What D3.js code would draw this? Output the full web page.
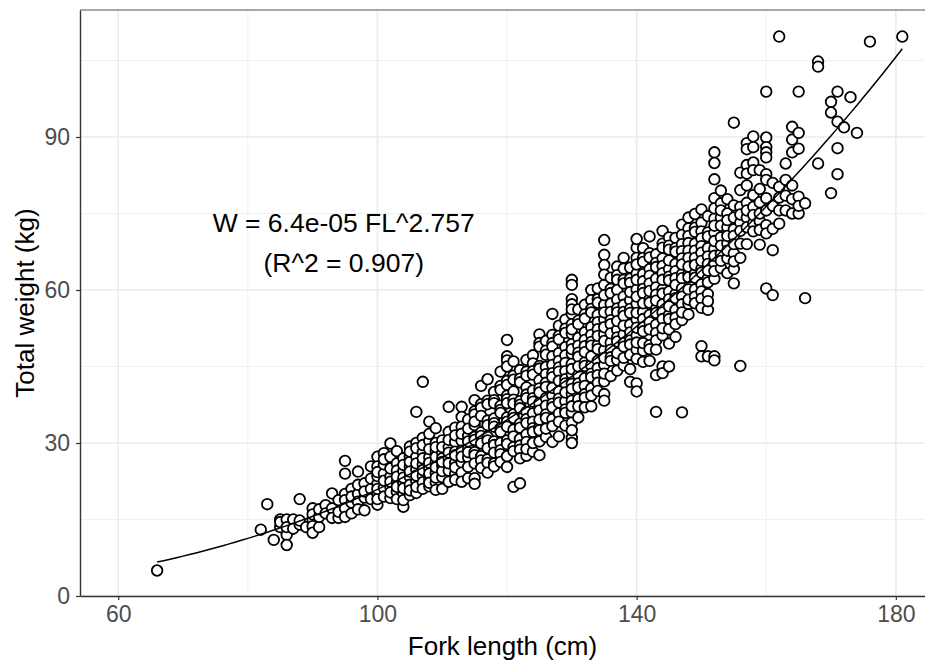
<!DOCTYPE html>
<html>
<head>
<meta charset="utf-8">
<script src="https://cdn.jsdelivr.net/npm/d3@7"></script>
<style>
  html, body { margin: 0; padding: 0; background: #fff; }
  svg { display: block; font-family: "Liberation Sans", Arial, sans-serif; }
</style>
</head>
<body>
<svg id="chart" width="925" height="664"></svg>
<script>
// fork length columns (cm) and the weights (kg)
const lengthColumns = [
  66, 82, 83, 84, 85, 86, 87, 88, 89, 90,
  91, 92, 93, 94, 95, 96, 97, 98, 99, 100,
  101, 102, 103, 104, 105, 106, 107, 108, 109, 110,
  111, 112, 113, 114, 115, 116, 117, 118, 119, 120,
  121, 122, 123, 124, 125, 126, 127, 128, 129, 130,
  131, 132, 133, 134, 135, 136, 137, 138, 139, 140,
  141, 142, 143, 144, 145, 146, 147, 148, 149, 150,
  151, 152, 153, 154, 155, 156, 157, 158, 159, 160,
  161, 162, 163, 164, 165, 166, 168, 170, 171, 172,
  173, 174, 176, 181
];

const weightColumns = [
  [5], [13], [18], [11], [15, 13.5, 14.5], [15, 12, 10, 13.5], [15, 13.2], [19, 14, 14.8], [13.5], [17.2, 15, 13.7, 12.4, 16],
  [13.5, 15.5, 17], [17.8, 16.2], [20.1, 17.2, 15.3], [15.3, 16.5, 18.8], [26.5, 24, 20, 18.8, 17.2, 15.5], [18.3, 21, 16.2, 19.5],
  [24.4, 20, 18.5, 21.8, 17], [22.1, 19.3, 16.8, 20.5], [25.4, 21, 19, 23],
  [27.3, 25.4, 22, 20, 17.9, 23.5, 19, 21, 24.3],
  [28, 24, 21.2, 19.5, 22.6, 25.8, 26.8],
  [29.9, 27.3, 23.4, 21.4, 19.2, 25, 20.3, 22.4],
  [26, 22.3, 24.6, 20.4, 28.4, 23.4, 21.4, 19],
  [24.5, 22, 20.1, 27, 17.5, 23.2, 25.7, 21.1, 18.8],
  [29.3, 27.3, 25.4, 23.4, 21.8, 19.8, 26.3, 24.4, 20.7, 28.3],
  [36.1, 30, 27.3, 24.8, 20.2, 22.5, 23.6, 26, 21.4, 29],
  [42, 25.8, 23.6, 28.2, 31, 22.3, 27, 24.7, 29.6, 21],
  [34.2, 30.4, 27.2, 25, 23, 21.5, 26.1, 28.8, 24, 22.2, 31.8],
  [32.9, 28.4, 26.2, 24.1, 22.3, 30, 25.2, 27.3, 23.2, 29.2, 20.8],
  [30.5, 28, 25.6, 23.3, 21, 27, 29.2, 24.5, 26.3],
  [37.1, 32.2, 29.2, 27, 24.6, 22.4, 26, 30.6, 28.1],
  [30.2, 28.3, 26.1, 24, 27.6, 33, 31.5, 22.8, 25.2],
  [37.1, 35.1, 33.2, 30.4, 28.5, 26.2, 24.2, 22.4, 31.8, 27.3],
  [31.4, 29.1, 27.2, 25.3, 23.1, 34.6, 32.8, 28.2, 30.3],
  [38.4, 36.2, 35.6, 33.5, 31.2, 30.6, 28.2, 27.6, 26, 23.1, 22, 34.2],
  [41.2, 37.6, 36.9, 35.3, 32.1, 31.4, 29.9, 27.4, 26.6, 25.1],
  [42.5, 38.3, 37.6, 34.4, 33.5, 31.2, 30.5, 29, 26.8, 26.1, 24.2],
  [40, 38.4, 37.8, 34.8, 33.9, 33.2, 30.3, 29.6, 28.1, 26, 25.4],
  [44, 41.2, 40.4, 37.3, 36.5, 35.9, 32.9, 32.2, 30, 28.6, 27.8, 26.3],
  [50.2, 47, 46.2, 45, 42.2, 41.4, 39.3, 38.6, 37.8, 35, 34.2, 33.2, 30.5, 29.8, 27.4, 25.3],
  [46, 43.2, 42.4, 40.1, 38.5, 37.7, 35.6, 34.9, 32.6, 31.3, 29.2, 28.4, 21.4],
  [44.3, 42.6, 41.9, 38.2, 37.5, 36.8, 33.8, 33, 30.8, 29.5, 28.7, 27, 22.1],
  [46.3, 44, 43.2, 40.9, 39.5, 38.8, 36.1, 34.7, 33.9, 31.7, 30.2, 27.5, 28.8],
  [47.2, 45.6, 44.1, 43.4, 40.3, 38.8, 38.1, 35.8, 34.2, 32.9, 32.2, 28.3, 30],
  [51.3, 49.6, 48.9, 45.1, 44.6, 42.3, 40.7, 39.9, 37.8, 36.4, 33.1, 32.5, 30.3, 27.6, 34.6],
  [50, 48.1, 47.3, 44.9, 43.5, 41.8, 41, 38.8, 37.3, 35.6, 34.9, 31.2, 32.8],
  [55.3, 51.2, 49.6, 48.9, 47, 45.3, 43.7, 42.9, 39.3, 37.7, 37, 34.7, 33.3, 30.2, 40.8],
  [53, 51, 50.3, 47.6, 46.1, 44.8, 44, 40.1, 38.7, 37.9, 35.8, 34.2, 31.3, 42.2],
  [54.2, 52.4, 51.6, 48.8, 47.2, 45.7, 44.1, 42.5, 41.7, 38.2, 36.6, 35.9, 33.4, 39.9],
  [62, 61, 58.2, 57.2, 55.3, 53.3, 51.4, 49.4, 47.5, 45.5, 43.5, 41.6, 39.6, 38.3, 36, 34, 31, 30, 56.2, 52.3, 48.4, 44.5, 40.6, 37.2, 32.5],
  [56.2, 54, 53.3, 50.6, 49.1, 47.7, 46.9, 43.3, 41.7, 40.9, 38.6, 37.2, 35, 45],
  [57.1, 55.2, 54.4, 51.7, 50.2, 49, 45.8, 45.1, 42.7, 41.2, 39.6, 38.9, 37, 47.8],
  [60, 58, 56.3, 55.6, 52.7, 51.2, 49.8, 49.1, 45.2, 43.6, 42.9, 40.7, 39.3, 37.2, 47],
  [60.3, 58.2, 57.5, 55.1, 53.7, 52.3, 49.2, 48.4, 46.1, 44.7, 43.3, 41.8, 40.2, 51],
  [69.8, 66.9, 64.9, 61, 57.1, 54.2, 51.3, 48.2, 45.3, 42.1, 39.6, 38.3, 55.6, 50, 59, 52.7, 46.7, 43.6, 63],
  [62.4, 60.2, 59.4, 57.3, 55.7, 54.1, 53.3, 49.7, 48.3, 46.8, 46.1, 43.1, 51.5],
  [64.6, 62.9, 62, 60, 58.1, 56.4, 55.6, 52.2, 50.7, 49.9, 46.3, 44.2, 47.6, 53.9],
  [66.3, 64.2, 62, 61.3, 58.7, 57.1, 55.7, 54.9, 51.3, 49.6, 48.9, 45.2, 46.7, 53],
  [64.4, 62.2, 61.4, 58, 56.3, 55.5, 53.2, 51.7, 50.1, 49.3, 47.3, 44.5, 42, 59.6],
  [68.3, 66.3, 63.2, 60.1, 57.3, 54.2, 51.1, 48.3, 41.7, 40.1, 55.5, 62, 65, 58.7, 52.6, 49.7, 46.5, 70],
  [68.2, 66.3, 65.5, 63.1, 61.7, 60.2, 59.4, 55.7, 54.3, 52.7, 51.9, 48.1, 49.6, 45.9, 57.4],
  [70.5, 67.2, 66.4, 64.1, 62.8, 61.3, 58.2, 57.5, 55.1, 53.7, 52.3, 49.2, 48.4, 46.1, 59.8],
  [67, 65.3, 64.5, 62.2, 60.5, 59.1, 56.3, 55.5, 53.2, 51.6, 50.1, 48.3, 43.3, 36.1, 57.9],
  [71.6, 69.1, 68.3, 66.2, 64.7, 63.3, 60.1, 59.3, 57.2, 55.6, 54.3, 51.1, 52.5, 45, 43.7, 62],
  [70.3, 68.7, 67.9, 64.1, 62.6, 61.9, 59.7, 58.2, 55.1, 54.3, 52.3, 49.5, 45, 65.8, 56.8],
  [70.2, 68.2, 67.5, 65.1, 63.7, 62.3, 59.2, 58.4, 56.1, 54.6, 53.3, 50.8, 61],
  [72.8, 70.8, 69, 67.6, 66.2, 63.1, 62.3, 60.3, 58.7, 57.2, 54.1, 55.6, 36, 65],
  [74.2, 72.1, 70.6, 69.2, 67.7, 66.3, 63.2, 62.5, 60.1, 57.3, 58.1, 55.2, 64.6],
  [74.9, 72.2, 71.4, 69.1, 67.7, 66.3, 63.2, 62.4, 60.1, 58.7, 57.4, 64.9],
  [75.8, 73.2, 71.5, 70.1, 68.6, 67.3, 64.2, 63.4, 61.1, 59.7, 58.3, 56.5, 49, 47, 65.7],
  [74.5, 71.3, 70.5, 68.2, 66.6, 65.1, 62.3, 61.5, 59.2, 56.1, 57.8, 47, 63.8],
  [87, 84.9, 81.7, 78, 74, 71.2, 68.1, 65.3, 62.2, 47, 46.2, 72.6, 69.6, 66.7, 63.7, 76],
  [77, 74.2, 70.3, 67.1, 64.3, 75.6, 72.6, 68.7, 65.7, 79.5],
  [75, 72.3, 69.1, 66.2, 63.3, 73.7, 70.6, 67.7, 77.8],
  [92.8, 71.9, 70.6, 67.2, 64.1, 61.3, 69, 74.2, 76.6, 65.6],
  [83, 76.3, 73.2, 69.1, 66.3, 45.1, 74.8, 71.6, 79.6],
  [88.8, 87.6, 84.5, 82.8, 77.1, 74.2, 69, 75.6, 72.3, 80.5],
  [90.1, 88, 85, 76.3, 73.1, 83.5, 78.6, 74.7, 71.5],
  [83.5, 77.2, 68.9, 73.5, 75, 79.8, 71.8],
  [98.9, 89.9, 88, 87, 86, 82.7, 81.6, 78, 75.6, 72.7, 71.1, 60.3],
  [81, 76.5, 72, 67.8, 59], [109.7, 80.2, 78.1, 75.6, 73], [84.8, 81.6, 78.5, 75.6], [92, 89.5, 87, 80.5, 75, 77.8],
  [98.9, 90.8, 87.7, 78.3, 75, 76.5], [58.4, 77], [104.8, 103.8, 84.8], [96.9, 94.8, 79], [98.9, 93, 87.8, 82.7], [91.9],
  [97.8], [90.8], [108.7], [109.7]
];

// fitted power model printed on the chart: W = a * FL^b
const fitA = 6.4e-5;
const fitB = 2.757;
const fitRange = [66, 181];

const xTicks = [60, 100, 140, 180];
const xMinor = [80, 120, 160];
const yTicks = [0, 30, 60, 90];
const yMinor = [15, 45, 75, 105];

const labelLines = ['W = 6.4e-05 FL^2.757', '(R^2 = 0.907)'];

const points = [];
lengthColumns.forEach((fl, i) => {
  weightColumns[i].forEach((w) => points.push({ fl: fl, w: w }));
});

const margin = { top: 10, right: 0, bottom: 68, left: 80 };
const width = 925 - margin.left - margin.right;
const height = 664 - margin.top - margin.bottom;

const x = d3.scaleLinear().domain([54.1, 184.5]).range([0, width]);
const y = d3.scaleLinear().domain([0, 114.9]).range([height, 0]);

const svg = d3.select('#chart');
const g = svg.append('g')
  .attr('transform', 'translate(' + margin.left + ',' + margin.top + ')');

// grid
g.selectAll('.minor-x').data(xMinor).enter().append('line')
  .attr('x1', (d) => x(d)).attr('x2', (d) => x(d))
  .attr('y1', 0).attr('y2', height)
  .style('stroke', '#f0f0f0').style('stroke-width', 1);
g.selectAll('.minor-y').data(yMinor).enter().append('line')
  .attr('y1', (d) => y(d)).attr('y2', (d) => y(d))
  .attr('x1', 0).attr('x2', width)
  .style('stroke', '#f0f0f0').style('stroke-width', 1);
g.selectAll('.major-x').data(xTicks).enter().append('line')
  .attr('x1', (d) => x(d)).attr('x2', (d) => x(d))
  .attr('y1', 0).attr('y2', height)
  .style('stroke', '#ebebeb').style('stroke-width', 1.6);
g.selectAll('.major-y').data(yTicks).enter().append('line')
  .attr('y1', (d) => y(d)).attr('y2', (d) => y(d))
  .attr('x1', 0).attr('x2', width)
  .style('stroke', '#ebebeb').style('stroke-width', 1.6);

// top border of the panel
g.append('line')
  .attr('x1', 0).attr('x2', width).attr('y1', 0).attr('y2', 0)
  .style('stroke', '#8c8c8c').style('stroke-width', 1.4);

// points
g.append('g').selectAll('circle').data(points).enter().append('circle')
  .attr('cx', (d) => x(d.fl))
  .attr('cy', (d) => y(d.w))
  .attr('r', 5.3)
  .style('fill', '#fff')
  .style('stroke', '#000')
  .style('stroke-width', 1.8);

// fitted curve
let line = d3.line()
  .x((d) => x(d))
  .y((d) => y(fitA * Math.pow(d, fitB)));
g.append('path')
  .datum(d3.range(fitRange[0], fitRange[1] + 0.5, 1))
  .style('fill', 'none')
  .style('stroke', '#000')
  .style('stroke-width', 1.5)
  .attr('d', line);

// equation label
let label = g.append('text')
  .attr('text-anchor', 'middle')
  .style('font-size', '26.5px')
  .style('fill', '#000');
labelLines.forEach((t, i) => {
  label.append('tspan')
    .attr('x', x(94.8))
    .attr('y', 221.5 + i * 40)
    .text(t);
});

// axes
let xAxis = g.append('g')
  .attr('transform', 'translate(0,' + height + ')')
  .call(d3.axisBottom(x).tickValues(xTicks).tickSize(4).tickPadding(6).tickSizeOuter(0));
let yAxis = g.append('g')
  .call(d3.axisLeft(y).tickValues(yTicks).tickSize(4).tickPadding(6).tickSizeOuter(0));

[xAxis, yAxis].forEach((ax) => {
  ax.select('.domain').style('stroke', '#333').style('stroke-width', 1.4);
  ax.selectAll('.tick line').style('stroke', '#333').style('stroke-width', 1.2);
  ax.selectAll('.tick text')
    .style('font-family', '"Liberation Sans", Arial, sans-serif')
    .style('font-size', '23px')
    .style('fill', '#4d4d4d');
});

// axis titles
svg.append('text')
  .attr('x', margin.left + width / 2)
  .attr('y', 655)
  .attr('text-anchor', 'middle')
  .style('font-size', '26px')
  .style('fill', '#000')
  .text('Fork length (cm)');

svg.append('text')
  .attr('transform', 'translate(34,' + (margin.top + height / 2) + ') rotate(-90)')
  .attr('text-anchor', 'middle')
  .style('font-size', '26px')
  .style('fill', '#000')
  .text('Total weight (kg)');
</script>
</body>
</html>
